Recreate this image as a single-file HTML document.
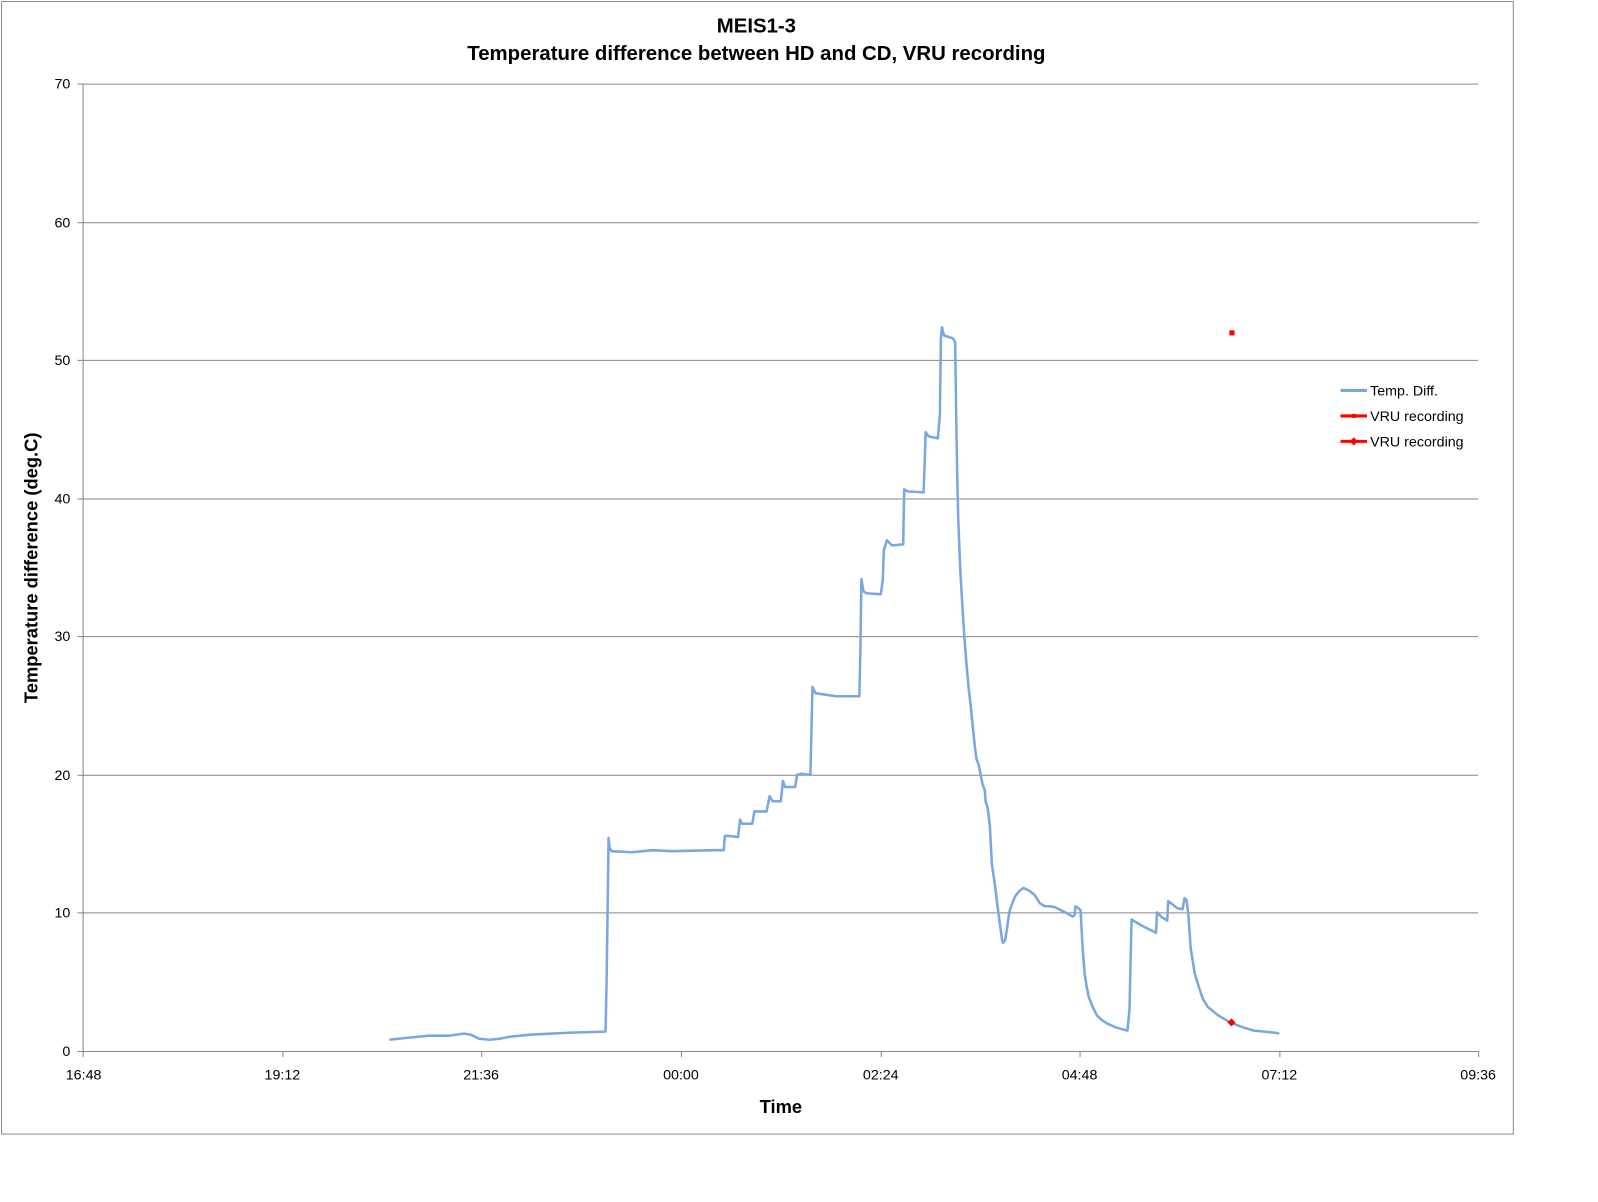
<!DOCTYPE html>
<html><head><style>body{margin:0;background:#fff}svg{display:block}text{font-family:"Liberation Sans",Arial,sans-serif}</style></head>
<body>
<svg width="1598" height="1202" viewBox="0 0 1598 1202" xmlns="http://www.w3.org/2000/svg">
<g transform="scale(1.0194)">
<rect x="1.5" y="1.5" width="1483" height="1111" fill="#fff" stroke="#8c8c8c"/>
<g stroke="#868686" stroke-width="1">
<line x1="81" y1="82.5" x2="1450" y2="82.5"/>
<line x1="81" y1="218.5" x2="1450" y2="218.5"/>
<line x1="81" y1="353.5" x2="1450" y2="353.5"/>
<line x1="81" y1="489.5" x2="1450" y2="489.5"/>
<line x1="81" y1="624.5" x2="1450" y2="624.5"/>
<line x1="81" y1="760.5" x2="1450" y2="760.5"/>
<line x1="81" y1="895.5" x2="1450" y2="895.5"/>
<line x1="81" y1="1031.5" x2="1450" y2="1031.5"/>
<line x1="81.5" y1="82" x2="81.5" y2="1031"/>
<line x1="76" y1="82.5" x2="81" y2="82.5"/><line x1="76" y1="218.5" x2="81" y2="218.5"/><line x1="76" y1="353.5" x2="81" y2="353.5"/><line x1="76" y1="489.5" x2="81" y2="489.5"/><line x1="76" y1="624.5" x2="81" y2="624.5"/><line x1="76" y1="760.5" x2="81" y2="760.5"/><line x1="76" y1="895.5" x2="81" y2="895.5"/><line x1="76" y1="1031.5" x2="81" y2="1031.5"/>
<line x1="81.5" y1="1031" x2="81.5" y2="1037"/><line x1="277.5" y1="1031" x2="277.5" y2="1037"/><line x1="472.5" y1="1031" x2="472.5" y2="1037"/><line x1="668.5" y1="1031" x2="668.5" y2="1037"/><line x1="864.5" y1="1031" x2="864.5" y2="1037"/><line x1="1059.5" y1="1031" x2="1059.5" y2="1037"/><line x1="1255.5" y1="1031" x2="1255.5" y2="1037"/><line x1="1450.5" y1="1031" x2="1450.5" y2="1037"/>
</g>
<g font-size="14" fill="#000" text-anchor="end">
<text x="69" y="87">70</text><text x="69" y="223">60</text><text x="69" y="358">50</text><text x="69" y="494">40</text><text x="69" y="629">30</text><text x="69" y="765">20</text><text x="69" y="900">10</text><text x="69" y="1036">0</text>
</g>
<g font-size="14" fill="#000" text-anchor="middle">
<text x="82" y="1059">16:48</text><text x="277" y="1059">19:12</text><text x="472" y="1059">21:36</text><text x="668" y="1059">00:00</text><text x="864" y="1059">02:24</text><text x="1059" y="1059">04:48</text><text x="1255" y="1059">07:12</text><text x="1450" y="1059">09:36</text>
</g>
<text x="742" y="32" font-size="20" font-weight="bold" text-anchor="middle">MEIS1-3</text>
<text x="742" y="59" font-size="20" font-weight="bold" text-anchor="middle">Temperature difference between HD and CD, VRU recording</text>
<text x="766" y="1092" font-size="18" font-weight="bold" text-anchor="middle">Time</text>
<text transform="translate(37,557) rotate(-90)" font-size="18" font-weight="bold" text-anchor="middle">Temperature difference (deg.C)</text>
<polyline fill="none" stroke="#7ba7e0" stroke-width="2.5" stroke-linejoin="round" points="382,1020 400,1018 420,1016 440,1016 455,1014 462,1015 470,1019 480,1020 490,1019 500,1017 520,1015 560,1013 594,1012 595,965 596,896 597,822 598,832 600,835 620,836 640,834 660,835 700,834 710,834 711,820 714,820 724,821 726,804 728,808 738,808 740,796 752,796 755,781 758,786 766,786 768,766 770,772 780,772 782,760 786,759 795,760 797,674 800,680 820,683 843,683 844,638 845,568 847,580 850,582 864,583 866,569 867,540 870,530 875,535 886,534 887,480 890,482 906,483 907,457 908,424 911,428 920,430 922,407 923,332 924,321 926,329 935,332 937,336 938,408 939,467 940,509 942,559 944,593 946,625 948,650 950,673 952,690 954,710 956,730 958,745 960,750 962,760 964,770 966,775 967,787 969,793 971,810 973,848 976,868 978,885 980,900 982,915 983,922 984,925 986,922 988,910 990,895 993,886 996,879 1000,874 1004,871 1010,874 1015,878 1020,886 1025,889 1030,889 1035,890 1045,895 1052,899 1054,898 1055,889 1058,891 1060,893 1062,930 1064,955 1066,968 1068,978 1072,988 1076,996 1080,1000 1086,1004 1095,1008 1106,1011 1108,990 1110,902 1120,908 1130,913 1134,915 1135,895 1140,900 1145,903 1146,884 1155,891 1160,892 1162,881 1164,883 1166,900 1168,930 1172,955 1176,968 1180,980 1185,988 1195,996 1205,1002 1212,1005 1220,1008 1230,1011 1240,1012 1250,1013 1255,1014"/>
<rect x="1206" y="324" width="5" height="5" fill="#f00"/>
<path d="M1208,999 l4,4 -4,4 -4,-4z" fill="#f00"/>
<line x1="1315" y1="383" x2="1341" y2="383" stroke="#7ba7e0" stroke-width="3"/>
<line x1="1315" y1="408" x2="1341" y2="408" stroke="#f00" stroke-width="3"/>
<rect x="1326" y="406" width="4" height="4" fill="#f00"/>
<line x1="1315" y1="433" x2="1341" y2="433" stroke="#f00" stroke-width="3"/>
<path d="M1328,429 l4,4 -4,4 -4,-4z" fill="#f00"/>
<g font-size="14" fill="#000">
<text x="1344" y="388">Temp. Diff.</text>
<text x="1344" y="413">VRU recording</text>
<text x="1344" y="438">VRU recording</text>
</g>
</g>
</svg>
</body></html>
